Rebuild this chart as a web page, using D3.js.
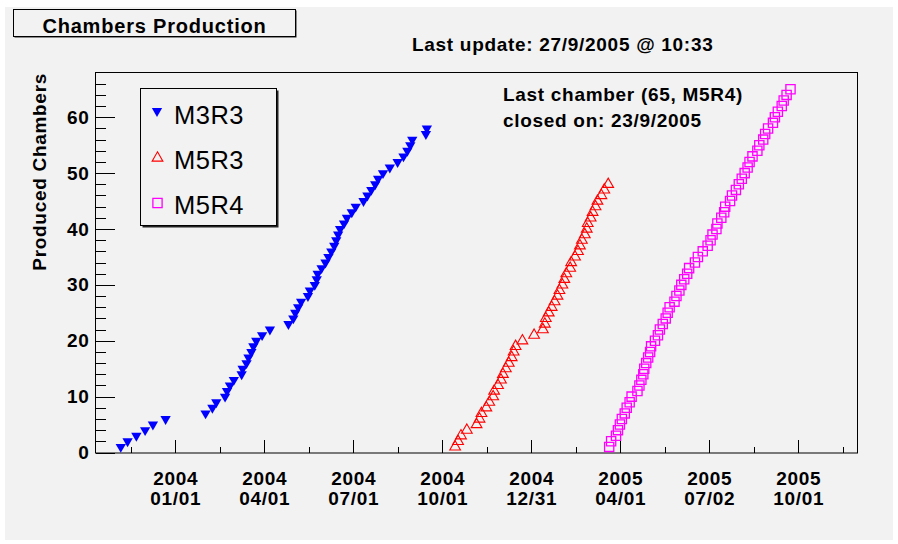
<!DOCTYPE html>
<html lang="en">
<head>
<meta charset="utf-8">
<title>Chambers Production</title>
<script src="https://cdn.jsdelivr.net/npm/d3@7"></script>
<style>
    body { margin: 0; background: #ffffff; }
    text { font-family: "Liberation Sans", Arial, sans-serif; }
    .bold, .axis text { font-weight: bold; font-size: 19px; letter-spacing: 0.7px; fill: #000; }
    .legend text { font-size: 25.5px; letter-spacing: 0.5px; }
    .axis path.domain { display: none; }
    .axis line { stroke: #000; shape-rendering: crispEdges; }
</style>
</head>
<body>
<script>
// production dates of each chamber
var m3r3Dates = ["2003-11-06","2003-11-13","2003-11-22","2003-12-01","2003-12-09","2003-12-22",
    "2004-02-01","2004-02-08","2004-02-12","2004-02-21","2004-02-23","2004-02-26","2004-03-01",
    "2004-03-09","2004-03-10","2004-03-14","2004-03-16","2004-03-19","2004-03-21","2004-03-24",
    "2004-03-30","2004-04-07","2004-04-26","2004-05-01","2004-05-03","2004-05-06","2004-05-09",
    "2004-05-16","2004-05-18","2004-05-23","2004-05-25","2004-05-26","2004-05-30","2004-06-03",
    "2004-06-06","2004-06-09","2004-06-12","2004-06-14","2004-06-16","2004-06-18","2004-06-22",
    "2004-06-25","2004-06-30","2004-07-04","2004-07-12","2004-07-16","2004-07-20","2004-07-24",
    "2004-07-27","2004-08-01","2004-08-08","2004-08-16","2004-08-22","2004-08-26","2004-08-29",
    "2004-08-31","2004-09-14","2004-09-15"];
var m3r3Counts = [1,2,3,4,5,6,7,8,9,10,11,12,13,14,15,16,17,18,19,20,21,22,23,24,25,26,27,28,29,30,
    31,32,33,34,35,36,37,38,39,40,41,42,43,44,45,46,47,48,49,50,51,52,53,54,55,56,57,58];

var m5r3Dates = ["2004-10-14","2004-10-17","2004-10-20","2004-10-26","2004-11-05","2004-11-08",
    "2004-11-10","2004-11-15","2004-11-18","2004-11-22","2004-11-23","2004-11-27","2004-11-30",
    "2004-12-02","2004-12-05","2004-12-08","2004-12-11","2004-12-13","2004-12-15","2004-12-22",
    "2005-01-03","2005-01-12","2005-01-14","2005-01-15","2005-01-18","2005-01-21","2005-01-24",
    "2005-01-27","2005-01-29","2005-02-01","2005-02-03","2005-02-05","2005-02-09","2005-02-10",
    "2005-02-14","2005-02-17","2005-02-19","2005-02-21","2005-02-24","2005-02-26","2005-02-27",
    "2005-03-02","2005-03-04","2005-03-07","2005-03-09","2005-03-13","2005-03-16","2005-03-20"];
var m5r3Counts = [1,2,3,4,5,6,7,8,9,10,11,12,13,14,15,16,17,18,19,20,21,22,23,24,25,26,27,28,29,30,
    31,32,33,34,35,36,37,38,39,40,41,42,43,44,45,46,47,48];

var m5r4Dates = ["2005-03-21","2005-03-23","2005-03-28","2005-03-30","2005-04-01","2005-04-03",
    "2005-04-06","2005-04-08","2005-04-11","2005-04-13","2005-04-19","2005-04-21","2005-04-23",
    "2005-04-25","2005-04-26","2005-04-28","2005-04-30","2005-05-02","2005-05-03","2005-05-07",
    "2005-05-10","2005-05-12","2005-05-15","2005-05-18","2005-05-20","2005-05-22","2005-05-27",
    "2005-05-29","2005-06-01","2005-06-03","2005-06-06","2005-06-09","2005-06-11","2005-06-17",
    "2005-06-20","2005-06-25","2005-06-30","2005-07-03","2005-07-05","2005-07-09","2005-07-10",
    "2005-07-14","2005-07-17","2005-07-18","2005-07-23","2005-07-25","2005-07-29","2005-08-01",
    "2005-08-04","2005-08-07","2005-08-10","2005-08-12","2005-08-15","2005-08-20","2005-08-22",
    "2005-08-26","2005-08-28","2005-08-31","2005-09-05","2005-09-07","2005-09-10","2005-09-14",
    "2005-09-16","2005-09-19","2005-09-23"];
var m5r4Counts = [1,2,3,4,5,6,7,8,9,10,11,12,13,14,15,16,17,18,19,20,21,22,23,24,25,26,27,28,29,30,
    31,32,33,34,35,36,37,38,39,40,41,42,43,44,45,46,47,48,49,50,51,52,53,54,55,56,57,58,59,60,
    61,62,63,64,65];

var seriesNames = ["M3R3", "M5R3", "M5R4"];

// axis setup
var xDomain = ["2003-10-10T14:00Z", "2005-11-30T05:00Z"];
var yDomain = [0, 68.1];
var yTicks = [0, 10, 20, 30, 40, 50, 60];
var yMinorTicks = [2,4,6,8,12,14,16,18,22,24,26,28,32,34,36,38,42,44,46,48,52,54,56,58,62,64,66];
var xTickDates = ["2004-01-01T00:00Z","2004-04-01T07:00Z","2004-07-01T14:00Z","2004-09-30T21:00Z",
    "2004-12-31T04:00Z","2005-04-01T11:00Z","2005-07-01T18:00Z","2005-10-01T00:00Z"];
var xTickYears = ["2004","2004","2004","2004","2004","2005","2005","2005"];
var xTickDays = ["01/01","04/01","07/01","10/01","12/31","04/01","07/02","10/01"];

var frame = {left: 95, right: 857, top: 72, bottom: 452.5};
var bg = "#f2f2f2";

var svg = d3.select("body").append("svg")
    .attr("width", 898)
    .attr("height", 544);

// canvas
svg.append("rect")
    .attr("x", 5).attr("y", 7)
    .attr("width", 888).attr("height", 533)
    .attr("fill", bg);

var x = d3.scaleUtc()
    .domain(xDomain.map(function(d) { return new Date(d); }))
    .range([frame.left, frame.right]);
var y = d3.scaleLinear()
    .domain(yDomain)
    .range([frame.bottom, frame.top]);

// frame
svg.append("rect")
    .attr("x", frame.left + 0.5).attr("y", frame.top + 0.5)
    .attr("width", frame.right - frame.left).attr("height", frame.bottom - frame.top)
    .attr("fill", "none")
    .attr("stroke", "#000");

// y axis, ticks pointing inwards
svg.append("g")
    .attr("class", "axis")
    .attr("transform", "translate(" + (frame.left + 0.5) + ",0)")
    .call(d3.axisLeft(y).tickValues(yMinorTicks).tickSizeInner(-10).tickSizeOuter(0).tickFormat(""));
svg.append("g")
    .attr("class", "axis")
    .attr("transform", "translate(" + (frame.left + 0.5) + ",0)")
    .call(d3.axisLeft(y).tickValues(yTicks).tickSizeInner(-19).tickSizeOuter(0).tickPadding(6));

// x axis: minor ticks halfway between the major ones
var majors = xTickDates.map(function(d) { return new Date(d); });
var minors = [];
for (var i = 0; i < majors.length; i++) {
    var step = (i > 0 ? majors[i] - majors[i - 1] : majors[1] - majors[0]);
    minors.push(new Date(+majors[i] - step / 2));
}
minors.push(new Date(+majors[majors.length - 1] + (majors[1] - majors[0]) / 2));

svg.append("g")
    .attr("class", "axis")
    .attr("transform", "translate(0," + frame.bottom + ")")
    .call(d3.axisBottom(x).tickValues(minors).tickSizeInner(-6).tickSizeOuter(0).tickFormat(""));
var xg = svg.append("g")
    .attr("class", "axis")
    .attr("transform", "translate(0," + frame.bottom + ")")
    .call(d3.axisBottom(x).tickValues(majors).tickSizeInner(-13).tickSizeOuter(0));
xg.selectAll(".tick text")
    .attr("dy", null)
    .attr("y", null)
    .text(null)
    .each(function(d, i) {
        var t = d3.select(this);
        t.append("tspan").attr("x", 0).attr("y", 32.5).text(xTickYears[i]);
        t.append("tspan").attr("x", 0).attr("y", 52.5).text(xTickDays[i]);
    });

// y title
svg.append("text")
    .attr("class", "bold")
    .attr("transform", "translate(46," + (frame.top + 1) + ") rotate(-90)")
    .style("text-anchor", "end")
    .text("Produced Chambers");

// markers
var downTri = d3.symbol().type(d3.symbolTriangle).size(46);
var upTri = d3.symbol().type(d3.symbolTriangle).size(50);
var square = d3.symbol().type(d3.symbolSquare).size(85);

svg.append("g").selectAll("path")
    .data(m3r3Dates)
    .enter().append("path")
    .attr("d", downTri)
    .attr("transform", function(d, i) {
        return "translate(" + x(new Date(d)) + "," + y(m3r3Counts[i]) + ") rotate(180)";
    })
    .attr("fill", "#0000ff");

svg.append("g").selectAll("path")
    .data(m5r3Dates)
    .enter().append("path")
    .attr("d", upTri)
    .attr("transform", function(d, i) {
        return "translate(" + x(new Date(d)) + "," + y(m5r3Counts[i]) + ")";
    })
    .attr("fill", "none")
    .attr("stroke", "#ff0000")
    .attr("stroke-width", 1.1);

svg.append("g").selectAll("path")
    .data(m5r4Dates)
    .enter().append("path")
    .attr("d", square)
    .attr("transform", function(d, i) {
        return "translate(" + x(new Date(d)) + "," + y(m5r4Counts[i]) + ")";
    })
    .attr("fill", "none")
    .attr("stroke", "#ff00ff")
    .attr("stroke-width", 1.3);

// legend
var legend = svg.append("g").attr("class", "legend");
legend.append("rect")
    .attr("x", 142.5).attr("y", 90.5).attr("width", 136).attr("height", 137)
    .attr("fill", "#222");
legend.append("rect")
    .attr("x", 140.5).attr("y", 88.5).attr("width", 136).attr("height", 137)
    .attr("fill", bg).attr("stroke", "#000");
var legMarkY = [111, 158, 203];
var legTextY = [124, 169.3, 213.5];
legend.append("path").attr("d", downTri)
    .attr("transform", "translate(157," + legMarkY[0] + ") rotate(180)")
    .attr("fill", "#0000ff");
legend.append("path").attr("d", upTri)
    .attr("transform", "translate(157.5," + legMarkY[1] + ")")
    .attr("fill", "none").attr("stroke", "#ff0000").attr("stroke-width", 1.1);
legend.append("path").attr("d", square)
    .attr("transform", "translate(157.5," + legMarkY[2] + ")")
    .attr("fill", "none").attr("stroke", "#ff00ff").attr("stroke-width", 1.3);
legend.selectAll("text")
    .data(seriesNames)
    .enter().append("text")
    .attr("x", 174)
    .attr("y", function(d, i) { return legTextY[i]; })
    .text(function(d) { return d; });

// title box
svg.append("rect")
    .attr("x", 14.5).attr("y", 10.5).attr("width", 282).attr("height", 27)
    .attr("fill", "#222");
svg.append("rect")
    .attr("x", 13.5).attr("y", 9.5).attr("width", 282).attr("height", 27)
    .attr("fill", bg).attr("stroke", "#000");
svg.append("text")
    .attr("class", "bold")
    .attr("x", 154.5).attr("y", 33)
    .style("font-size", "20px")
    .style("letter-spacing", "0.8px")
    .style("text-anchor", "middle")
    .text("Chambers Production");

// annotations
svg.append("text").attr("class", "bold")
    .attr("x", 412).attr("y", 50.5)
    .text("Last update: 27/9/2005 @ 10:33");
svg.append("text").attr("class", "bold")
    .attr("x", 503).attr("y", 101)
    .text("Last chamber (65, M5R4)");
svg.append("text").attr("class", "bold")
    .attr("x", 503).attr("y", 126.5)
    .text("closed on: 23/9/2005");
</script>
</body>
</html>
